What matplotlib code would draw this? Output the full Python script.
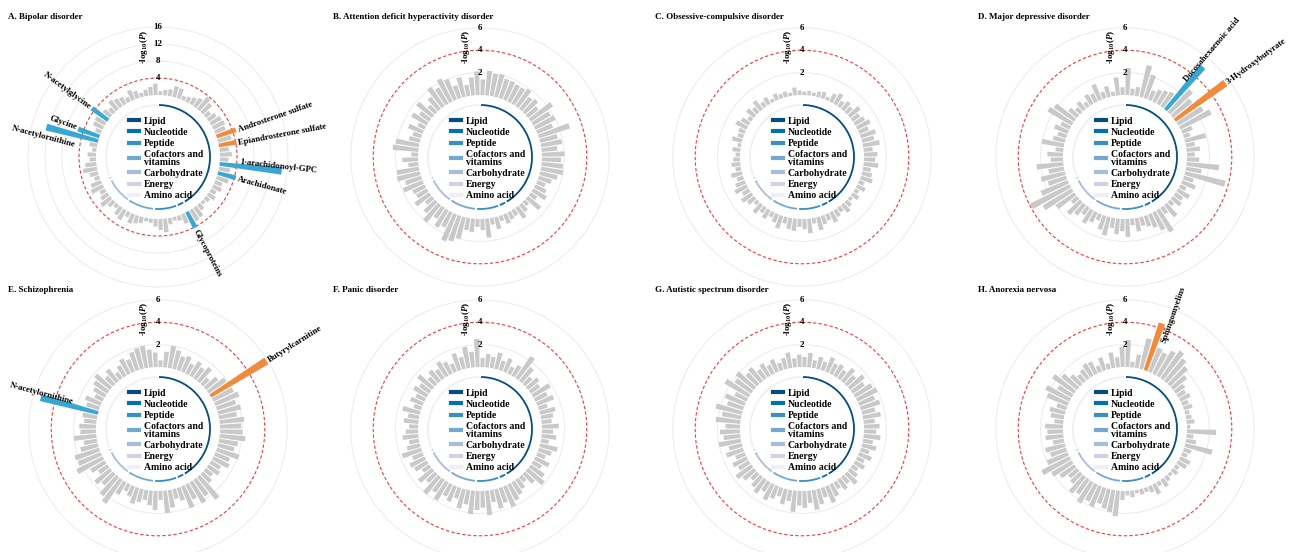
import numpy as np
import matplotlib
matplotlib.use("Agg")
import matplotlib.pyplot as plt
from matplotlib.lines import Line2D

plt.rcParams['font.family'] = ['Liberation Serif', 'DejaVu Serif']
plt.rcParams['font.weight'] = 'bold'
plt.rcParams['mathtext.fontset'] = 'custom'
plt.rcParams['mathtext.rm'] = 'Liberation Serif:bold'
plt.rcParams['mathtext.it'] = 'Liberation Serif:italic:bold'
plt.rcParams['mathtext.bf'] = 'Liberation Serif:bold'

# ---------------- data ----------------
categories = ['Lipid', 'Nucleotide', 'Peptide', 'Cofactors and\nvitamins',
              'Carbohydrate', 'Energy', 'Amino acid']
category_sizes = [35, 2, 6, 7, 7, 1, 26]
category_colors = ['#034e7b', '#0570b0', '#3690c0', '#74a9cf',
                   '#a6bddb', '#d0d1e6', '#f1eef6']

titles = ['A. Bipolar disorder', 'B. Attention deficit hyperactivity disorder',
          'C. Obsessive-compulsive disorder', 'D. Major depressive disorder',
          'E. Schizophrenia', 'F. Panic disorder',
          'G. Autistic spectrum disorder', 'H. Anorexia nervosa']

ticks_bd = [4, 8, 12, 16]
ticks_other = [2, 4, 6]
threshold = 4

bd = [0.9, 1.3, 1.6, 2.6, 2.4, 1.0, 1.3,
      1.8, 2.4, 3.7, 2.9, 1.5, 2.2, 2.8,
      3.0, 2.6, 4.8, 3.2, 4.2, 2.2, 2.8,
      2.0, 14.7, 2.6, 4.35, 2.9, 1.8, 2.2,
      1.4, 2.0, 1.2, 0.8, 1.6, 2.7, 3.0,
      4.2, 2.4, 1.2, 0.9, 1.5, 3.2, 2.6,
      1.8, 1.0, 0.8, 1.5, 1.9, 2.4, 1.3,
      2.7, 2.2, 1.0, 1.7, 2.9, 2.0, 1.4,
      3.1, 2.5, 1.2, 2.0, 3.3, 2.6, 1.5,
      2.0, 1.0, 1.8, 12.6, 5.3, 1.4, 2.5,
      2.7, 4.7, 2.2, 1.5, 2.8, 2.3, 1.9,
      1.2, 2.5, 1.8, 1.0, 1.5, 2.0, 2.7]

adhd = [1.4, 2.2, 2.0, 2.1, 1.8, 1.8, 1.7,
        1.7, 1.9, 1.4, 1.6, 1.2, 2.4, 1.8,
        2.0, 1.5, 2.9, 1.6, 1.9, 1.4, 2.0,
        1.7, 1.9, 2.0, 1.6, 1.2, 0.8, 1.1,
        1.4, 0.7, 1.5, 0.5, 0.8, 1.2, 0.6,
        0.7, 0.9, 0.5, 1.1, 0.6, 1.7, 1.0,
        0.7, 1.2, 1.1, 2.0, 2.4, 2.6, 1.5,
        1.8, 1.2, 2.0, 1.4, 0.8, 1.6, 1.1,
        1.2, 1.9, 1.5, 2.1, 2.0, 0.9, 1.4,
        0.6, 2.3, 2.1, 1.0, 0.8, 1.4, 0.7,
        1.6, 1.1, 1.8, 0.9, 1.4, 2.1, 1.7,
        2.3, 2.0, 1.2, 1.8, 1.0, 1.6, 2.1]

ocd = [0.3, 0.4, 0.3, 0.5, 0.6, 0.3, 0.8,
       1.1, 0.6, 0.9, 0.7, 1.2, 0.8, 1.0,
       1.3, 0.9, 1.4, 1.1, 1.5, 0.8, 1.2,
       1.0, 1.3, 0.7, 0.9, 1.1, 0.5, 0.8,
       0.4, 0.7, 0.3, 0.6, 0.9, 0.5, 0.7,
       1.0, 0.6, 0.8, 1.2, 0.5, 1.3, 0.9,
       0.7, 1.1, 1.0, 0.6, 1.2, 0.8, 0.5,
       0.9, 0.6, 1.0, 0.4, 0.8, 1.1, 0.7,
       1.2, 0.9, 0.6, 1.0, 0.5, 0.8, 0.6,
       0.4, 0.7, 0.3, 0.9, 0.5, 0.6, 1.1,
       0.8, 0.4, 0.9, 0.6, 1.0, 0.5, 0.7,
       0.3, 0.6, 0.4, 0.5, 0.3, 0.7, 0.4]

mdd = [2.4, 0.6, 0.8, 2.9, 2.2, 0.9, 1.2,
       1.4, 1.6, 5.1, 2.8, 2.2, 5.6, 2.6,
       3.1, 1.0, 0.6, 1.9, 0.8, 1.2, 0.7,
       1.1, 2.9, 1.4, 3.7, 0.9, 1.3, 0.6,
       1.2, 0.8, 1.0, 0.5, 1.4, 0.7, 2.3,
       1.8, 1.3, 1.0, 0.8, 1.2, 0.6, 1.6,
       1.1, 1.4, 0.9, 1.7, 1.3, 0.6, 1.0,
       1.4, 0.8, 1.2, 1.6, 0.7, 2.0, 3.0,
       3.9, 2.6, 1.7, 2.2, 1.4, 2.4, 1.1,
       1.4, 0.7, 2.0, 1.1, 0.8, 1.3, 0.9,
       2.5, 2.2, 1.0, 0.6, 0.9, 0.5, 1.0,
       0.8, 1.5, 0.6, 1.0, 0.4, 1.6, 0.7]

scz = [0.6, 1.4, 2.0, 1.7, 1.3, 1.5, 1.0,
       1.5, 1.2, 1.6, 0.8, 1.4, 1.9, 5.9,
       2.0, 2.3, 1.8, 2.1, 1.6, 2.2, 1.9,
       2.0, 2.3, 1.7, 1.5, 2.1, 1.4, 1.6,
       1.0, 1.2, 0.8, 1.1, 2.6, 1.8, 2.2,
       1.5, 2.1, 1.2, 0.9, 1.6, 2.0, 0.8,
       1.7, 1.3, 0.9, 1.2, 1.5, 1.0, 0.7,
       1.3, 2.6, 2.2, 1.4, 1.8, 1.0, 1.5,
       2.6, 2.2, 2.3, 1.6, 1.2, 2.0, 1.4,
       1.5, 1.1, 1.3, 5.3, 1.2, 1.5, 0.8,
       1.2, 1.5, 1.8, 1.0, 1.4, 0.7, 1.1,
       1.5, 1.2, 1.7, 1.9, 2.0, 1.6, 1.3]

panic = [0.8, 1.2, 1.0, 1.5, 0.9, 1.3, 0.7,
         1.1, 2.4, 1.6, 0.9, 1.3, 1.0, 1.8,
         1.2, 1.6, 0.8, 1.4, 1.1, 0.9, 1.5,
         1.0, 1.3, 0.7, 1.6, 1.2, 0.8, 1.4,
         0.9, 1.5, 1.9, 1.2, 0.6, 1.0, 1.3,
         1.6, 2.0, 1.4, 1.8, 1.1, 2.2, 1.5,
         1.7, 2.1, 1.3, 1.8, 1.0, 1.5, 1.2,
         1.9, 1.4, 2.0, 1.1, 1.6, 0.8, 1.3,
         1.5, 1.0, 1.8, 1.2, 0.9, 1.4, 1.1,
         0.8, 1.3, 1.0, 1.6, 0.7, 1.2, 0.9,
         1.4, 1.1, 1.7, 0.9, 1.3, 1.0, 1.5,
         1.2, 0.8, 1.6, 1.1, 1.9, 1.4, 2.5]

asd = [0.9, 1.3, 0.7, 1.1, 0.8, 1.4, 1.0,
       1.2, 0.9, 1.5, 1.1, 1.7, 1.3, 1.8,
       2.0, 1.5, 1.8, 1.2, 1.6, 1.0, 1.4,
       1.1, 1.5, 0.9, 1.3, 0.8, 1.2, 0.7,
       1.0, 0.6, 0.9, 1.3, 0.8, 1.1, 0.7,
       1.2, 1.6, 0.9, 1.4, 1.8, 1.1, 1.5,
       1.3, 1.9, 1.0, 1.4, 0.8, 1.2, 1.6,
       1.0, 1.5, 1.2, 0.8, 1.3, 1.7, 1.1,
       1.4, 0.9, 1.6, 1.2, 2.0, 1.5, 1.8,
       1.3, 2.2, 1.7, 2.4, 1.5, 1.9, 1.2,
       2.5, 1.8, 2.1, 1.4, 1.6, 1.0, 1.3,
       0.9, 1.2, 0.7, 1.0, 1.4, 0.8, 1.1]

an = [2.4, 0.5, 1.2, 2.8, 4.45, 2.3, 2.1,
      2.6, 3.0, 2.6, 2.2, 1.6, 1.0, 0.8,
      1.0, 0.6, 0.8, 0.4, 0.5, 0.7, 0.3,
      2.6, 0.6, 0.9, 2.5, 0.7, 0.5, 1.0,
      0.9, 0.4, 0.6, 0.3, 0.5, 0.8, 0.4,
      1.0, 0.6, 0.4, 0.5, 0.3, 0.6, 0.4,
      0.8, 2.3, 2.0, 1.8, 1.5, 2.0, 1.7,
      2.2, 1.6, 1.9, 1.2, 1.0, 1.6, 2.1,
      2.8, 2.0, 1.5, 1.8, 1.0, 1.6, 1.4,
      1.6, 0.8, 1.2, 1.4, 0.9, 2.0, 2.4,
      1.5, 2.4, 1.8, 1.2, 0.8, 1.0, 1.3,
      1.2, 0.6, 1.2, 0.5, 1.4, 0.9, 1.8]

series = [bd, adhd, ocd, mdd, scz, panic, asd, an]

# highlighted metabolites:
# (name, bar index, colour key, label radius, vertical anchor, sideways nudge in pt)
hits = {
    0: [('Androsterone sulfate', 16, 'pos', 5.3, 'center', 0),
        ('Epiandrosterone sulfate', 18, 'pos', 4.7, 'center', 0),
        ('1-arachidonoyl-GPC', 22, 'neg', 4.6, 'bottom', 0),
        ('Arachidonate', 24, 'neg', 4.9, 'center', 0),
        ('Glycoproteins', 35, 'neg', 4.7, 'center', 0),
        ('N-acetylglycine', 71, 'neg', 5.2, 'center', 0),
        ('Glycine', 67, 'neg', 5.8, 'bottom', -2),
        ('N-acetylornithine', 66, 'neg', 5.0, 'top', -4)],
    3: [('Docosahexaenoic acid', 9, 'neg', 3.2, 'bottom', 0),
        ('3-Hydroxybutyrate', 12, 'pos', 5.8, 'center', 0)],
    4: [('Butyrylcarnitine', 13, 'pos', 6.1, 'center', 0),
        ('N-acetylornithine', 66, 'neg', 2.4, 'bottom', 0)],
    7: [('Sphingomyelins', 4, 'pos', 2.85, 'top', -3)],
}
hit_colors = {'pos': '#f08a3c', 'neg': '#3aa7d2'}
bar_gray = '#c9c9c9'

# ---------------- layout ----------------
W, H = 1289, 552
fig = plt.figure(figsize=(W / 100, H / 100), dpi=100, facecolor='white')

centers = [(158, 157), (480, 157), (802, 157), (1125, 157),
           (158, 429), (480, 429), (802, 429), (1125, 429)]
title_x = [8, 333, 655, 978]
title_y = [17, 290]
R_PX = 140          # axes radius in pixels
BASE_PX = 62        # radius where bars start
RING_PX = 52        # radius of category ring

n = len(bd)
step = 2 * np.pi / n
theta = (np.arange(n) + 0.5) * step

for k, vals in enumerate(series):
    cx, cy = centers[k]
    ax = fig.add_axes([(cx - R_PX) / W, (H - cy - R_PX) / H,
                       2 * R_PX / W, 2 * R_PX / H], projection='polar')
    ax.set_theta_zero_location('N')
    ax.set_theta_direction(-1)
    ax.patch.set_alpha(0)
    ax.spines['polar'].set_visible(False)
    ax.grid(False)
    ax.set_xticks([])
    ax.set_yticks([])

    ticks = ticks_bd if k == 0 else ticks_other
    pxu = 4.25 if k == 0 else 11.2
    rmin = -BASE_PX / pxu
    rmax = rmin + R_PX / pxu
    ax.set_ylim(rmin, rmax)

    circ = np.linspace(0, 2 * np.pi, 400)
    for t in ticks:
        if t == threshold:
            ax.plot(circ, np.full_like(circ, t), color='#f23a3a', lw=0.8,
                    dashes=(3, 2), zorder=1)
        else:
            ax.plot(circ, np.full_like(circ, t), color='#ebebeb', lw=0.7, zorder=0)
        ax.text(0, t, str(t), ha='center', va='center', fontsize=6.5, zorder=5)

    colors = [bar_gray] * n
    for name, idx, key, lr, side, nudge in hits.get(k, []):
        colors[idx] = hit_colors[key]
    ax.bar(theta, vals, width=step * 0.8, bottom=0, color=colors,
           linewidth=0, zorder=2)

    # category ring
    ring_r = rmin + RING_PX / pxu
    start = 0
    for size, col in zip(category_sizes, category_colors):
        a0 = start * step + step * 0.25
        a1 = (start + size) * step - step * 0.25
        arc = np.linspace(a0, a1, 100)
        ax.plot(arc, np.full_like(arc, ring_r), color=col, lw=1.3,
                solid_capstyle='butt', zorder=2)
        start += size

    # metabolite labels, written along the bar direction
    for name, idx, key, lr, side, nudge in hits.get(k, []):
        deg = np.degrees(theta[idx])
        if deg < 180:
            rot, ha = 90 - deg, 'left'
        else:
            rot, ha = 270 - deg, 'right'
        normal = np.array([-np.sin(np.radians(rot)), np.cos(np.radians(rot))])
        ax.annotate(name, xy=(theta[idx], lr), xytext=tuple(nudge * normal),
                    textcoords='offset points', rotation=rot,
                    rotation_mode='anchor', ha=ha,
                    va=side if side != 'center' else 'center_baseline',
                    fontsize=6.3, zorder=6, annotation_clip=False)

    ax.text(0.45, 0.893, r'-log$_{10}$($\it{P}$)', transform=ax.transAxes,
            rotation=90, ha='center', va='center', fontsize=6.5, zorder=6)

    handles = [Line2D([0], [0], color=c, lw=3.0) for c in category_colors]
    leg = ax.legend(handles, categories, loc='center',
                    bbox_to_anchor=(0.53, 0.495), frameon=False,
                    fontsize=7.0, handlelength=1.0, handletextpad=0.5,
                    labelspacing=0.22, borderpad=0)
    for txt in leg.get_texts():
        txt.set_linespacing(0.8)

    fig.text(title_x[k % 4] / W, 1 - title_y[k // 4] / H, titles[k],
             ha='left', va='center', fontsize=6.5)

fig.savefig('out.png', dpi=100, facecolor='white')
